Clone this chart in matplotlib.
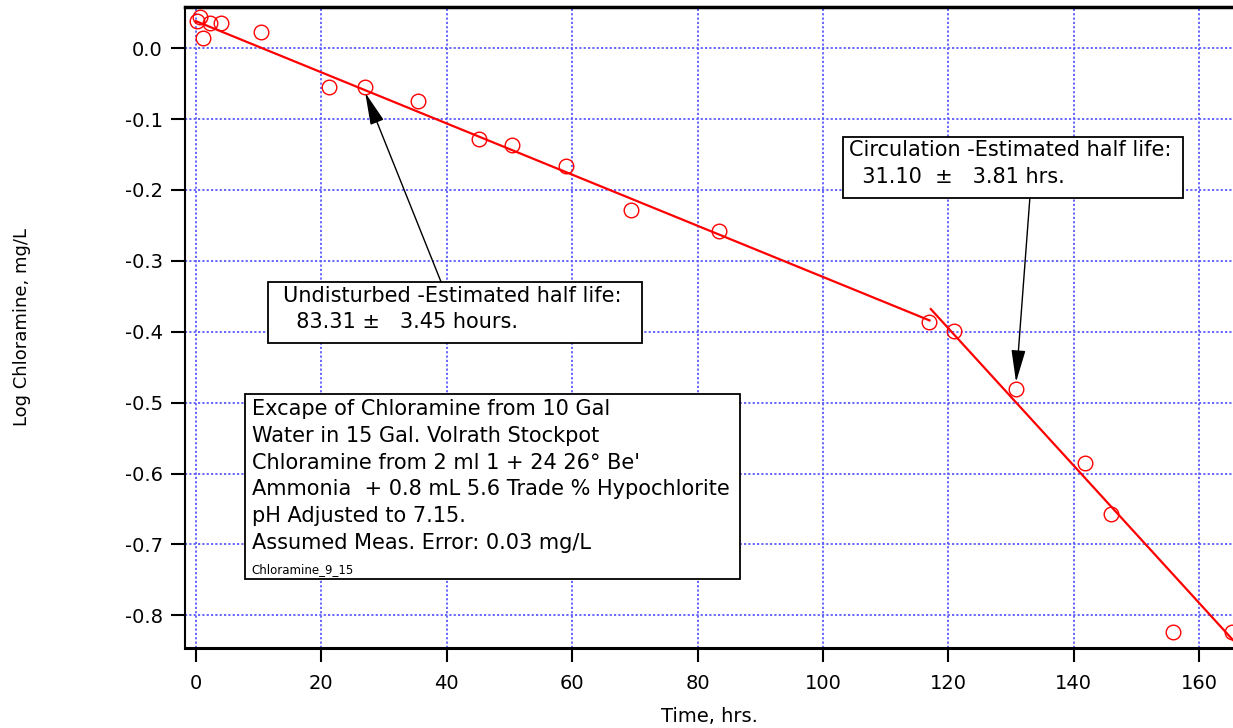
import matplotlib
matplotlib.use('Agg')
import matplotlib.pyplot as plt
from matplotlib.patches import Rectangle

# measured points (hours, log10 chloramine mg/L)
time_hrs = [0.2, 0.6, 1.1, 2.2, 4.0, 10.4, 21.2, 27.0, 35.4, 45.1, 50.4, 59.0,
            69.4, 83.4, 116.9, 120.9, 130.8, 141.8, 146.0, 155.8, 165.3]
log_cl = [0.038, 0.044, 0.014, 0.035, 0.035, 0.023, -0.055, -0.055, -0.075,
          -0.128, -0.137, -0.166, -0.228, -0.258, -0.386, -0.399, -0.481,
          -0.585, -0.657, -0.824, -0.824]

# fitted lines (end points)
fit1_x = [0.0, 117.0]
fit1_y = [0.038, -0.384]
fit2_x = [117.2, 168.0]
fit2_y = [-0.368, -0.860]

xticks = [0, 20, 40, 60, 80, 100, 120, 140, 160]
yticks = [0.0, -0.1, -0.2, -0.3, -0.4, -0.5, -0.6, -0.7, -0.8]

fig = plt.figure(figsize=(12.33, 7.28), dpi=100)
ax = fig.add_axes([185/1233, 1 - 648/728, 1 - 185/1233, (648 - 7)/728])

ax.plot(fit1_x, fit1_y, color='red', lw=1.6, zorder=3)
ax.plot(fit2_x, fit2_y, color='red', lw=1.6, zorder=3)
ax.plot(time_hrs, log_cl, 'o', mfc='none', mec='red', ms=10.5, mew=1.0, zorder=4)

ax.set_xlim(-1.75, 165.4)
ax.set_ylim(-0.846, 0.058)
ax.set_xticks(xticks)
ax.set_yticks(yticks)
ax.set_yticklabels(['%.1f' % v for v in yticks])
ax.grid(True, color='#5a5aff', ls=(0, (1.2, 1.2)), lw=1.3)

ax.spines['right'].set_visible(False)
ax.spines['top'].set_linewidth(2.5)
ax.spines['left'].set_linewidth(1.5)
ax.spines['bottom'].set_linewidth(2.2)
ax.tick_params(axis='both', direction='out', length=10, width=1.5, labelsize=14)
ax.tick_params(axis='x', pad=9)
ax.tick_params(axis='y', pad=6)

ax.set_xlabel('Time, hrs.', fontsize=14, va='center')
ax.set_ylabel('Log Chloramine, mg/L', fontsize=13, va='center')
ax.xaxis.set_label_coords(0.5, -(716 - 648) / 641)
ax.yaxis.set_label_coords(-(185 - 22) / 1048, 0.5)

# annotation boxes
box_style = dict(fill=True, facecolor='white', edgecolor='black', lw=1.3, zorder=5)
ax.add_patch(Rectangle((11.5, -0.416), 59.7, 0.086, **box_style))
ax.text(13.9, -0.335, 'Undisturbed -Estimated half life:\n  83.31 \u00b1   3.45 hours.',
        fontsize=15, va='top', ha='left', linespacing=1.4, zorder=6)

ax.add_patch(Rectangle((103.2, -0.2116), 54.2, 0.0861, **box_style))
ax.text(104.2, -0.130, 'Circulation -Estimated half life:\n  31.10  \u00b1   3.81 hrs.',
        fontsize=15, va='top', ha='left', linespacing=1.4, zorder=6)

ax.add_patch(Rectangle((7.8, -0.749), 79.0, 0.261, **box_style))
ax.text(8.9, -0.495, "Excape of Chloramine from 10 Gal\nWater in 15 Gal. Volrath Stockpot\n"
        "Chloramine from 2 ml 1 + 24 26\u00b0 Be'\nAmmonia  + 0.8 mL 5.6 Trade % Hypochlorite\n"
        "pH Adjusted to 7.15.\nAssumed Meas. Error: 0.03 mg/L",
        fontsize=15, va='top', ha='left', linespacing=1.42, zorder=6)
ax.text(8.9, -0.744, 'Chloramine_9_15', fontsize=8.5, va='bottom', ha='left', zorder=6)

# arrows
arrow = dict(arrowstyle='-|>,head_length=1.0,head_width=0.22', color='black', lw=1.0,
             mutation_scale=20, shrinkA=0, shrinkB=0)
ax.annotate('', xy=(27.0, -0.063), xytext=(39.1, -0.330), arrowprops=arrow, zorder=6)
ax.annotate('', xy=(130.8, -0.471), xytext=(133.0, -0.2116), arrowprops=arrow, zorder=6)

fig.savefig('out.png', dpi=100)
